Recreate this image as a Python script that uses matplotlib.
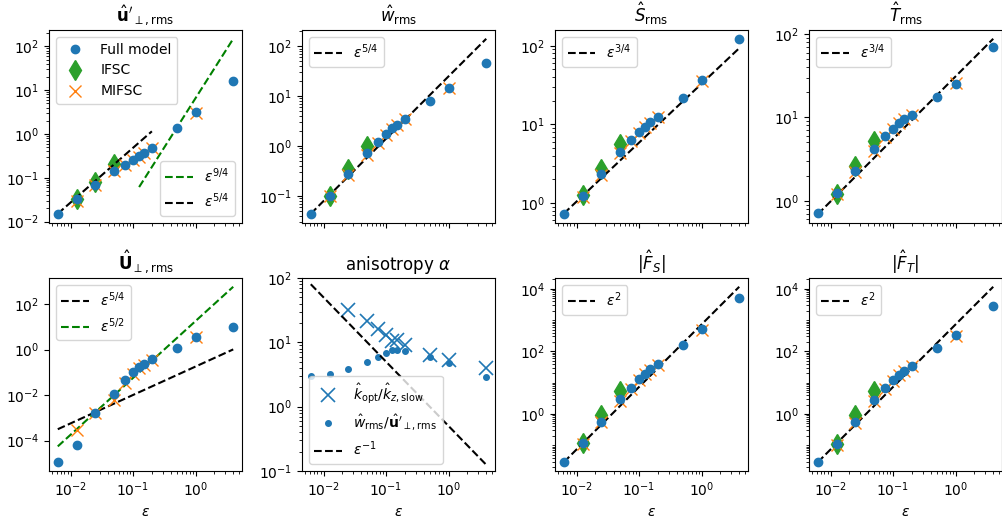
import numpy as np
import matplotlib
matplotlib.use("Agg")
import matplotlib.pyplot as plt
from matplotlib.ticker import FixedLocator, LogLocator, NullFormatter

# ---------------- data ----------------
eps = [0.00625, 0.0125, 0.025, 0.05, 0.075, 0.1, 0.125, 0.15, 0.2, 0.5, 1.0, 4.0]
eps_ifsc = [0.0125, 0.025, 0.05]
eps_mifsc = [0.0125, 0.025, 0.05, 0.075, 0.1, 0.125, 0.15, 0.2, 1.0]
eps_kopt = [0.025, 0.05, 0.075, 0.1, 0.125, 0.15, 0.2, 0.5, 1.0, 4.0]

uperp_full = [0.0147, 0.032, 0.069, 0.145, 0.20, 0.257, 0.31, 0.37, 0.48, 1.4, 3.1, 16.6]
uperp_ifsc = [0.033, 0.079, 0.21]
uperp_mifsc = [0.030, 0.067, 0.14, 0.20, 0.25, 0.30, 0.36, 0.47, 3.0]

w_full = [0.043, 0.10, 0.27, 0.72, 1.2, 1.74, 2.3, 2.7, 3.5, 8.1, 14.9, 47]
w_ifsc = [0.10, 0.35, 1.0]
w_mifsc = [0.10, 0.26, 0.66, 1.15, 1.7, 2.2, 2.7, 3.5, 14.5]

S_full = [0.72, 1.22, 2.35, 4.46, 6.3, 8.0, 9.4, 10.6, 12.4, 22, 37, 123]
S_ifsc = [1.25, 2.7, 5.65]
S_mifsc = [1.2, 2.3, 4.3, 6.1, 7.8, 9.3, 10.5, 12.3, 36]

T_full = [0.72, 1.23, 2.25, 4.2, 5.9, 7.3, 8.5, 9.5, 10.7, 17.5, 25, 70]
T_ifsc = [1.2, 2.6, 5.2]
T_mifsc = [1.2, 2.2, 4.0, 5.8, 7.2, 8.5, 9.5, 10.7, 26]

U_full = [1.12e-5, 6.4e-5, 1.7e-3, 0.0107, 0.045, 0.105, 0.18, 0.236, 0.40, 1.14, 3.5, 9.5]
U_mifsc = [2.9e-4, 1.6e-3, 6.0e-3, 0.035, 0.085, 0.15, 0.20, 0.36, 3.4]

kopt_ratio = [32, 21.7, 16.1, 13, 10.5, 11, 9.2, 6.4, 5.3, 4.0]
w_over_u = [2.95, 3.2, 3.9, 5.0, 6.0, 6.8, 7.5, 7.5, 7.3, 5.9, 4.8, 2.85]

FS_full = [0.030, 0.116, 0.57, 2.9, 6.9, 12.7, 19, 27, 40, 166, 510, 5200]
FS_ifsc = [0.12, 0.9, 5.5]
FS_mifsc = [0.11, 0.55, 2.6, 6.5, 12, 19, 26, 38, 500]

FT_full = [0.030, 0.11, 0.56, 2.8, 6.7, 11.8, 17.5, 24, 35, 124, 330, 2900]
FT_ifsc = [0.11, 0.9, 5.3]
FT_mifsc = [0.105, 0.53, 2.5, 6.3, 11.5, 17, 23, 34, 320]

# major y ticks for the flux panels (every second decade)
F_yticks = [1e0, 1e2, 1e4]

# scaling-law prefactors
c_u54, c_u94 = 8.6, 6.6
c_w = 25.0
c_S = 33.0
c_T = 31.0
c_U54, c_U52 = 0.18, 18.0
c_alpha = 0.5
c_F = 730.0

# ---------------- figure ----------------
W, H = 1003, 521
fig = plt.figure(figsize=(W / 100, H / 100), dpi=100)
lefts = [49, 302, 555, 809]
aw, ah = 193, 193
tops = [30, 278]
axes = [[None] * 4 for _ in range(2)]
for r in range(2):
    for c in range(4):
        axes[r][c] = fig.add_axes([lefts[c] / W, (H - tops[r] - ah) / H, aw / W, ah / H])

C0, C1, C2 = "#1f77b4", "#ff7f0e", "#2ca02c"
ms_o, ms_d, ms_x = 6, 10, 9


def model_points(ax, full, ifsc, mifsc):
    hf, = ax.plot(eps, full, "o", color=C0, ms=ms_o, ls="none", zorder=4, label="Full model")
    hi = None
    if ifsc is not None:
        hi, = ax.plot(eps_ifsc, ifsc, "d", color=C2, ms=ms_d, ls="none", zorder=2, label="IFSC")
    hm, = ax.plot(eps_mifsc, mifsc, "x", color=C1, ms=ms_x, ls="none", zorder=3, label="MIFSC")
    return hf, hi, hm


def powerline(ax, lo, hi, c, p, style, label):
    e = np.array([lo, hi])
    h, = ax.plot(e, c * e ** p, style, lw=1.5, label=label)
    return h


emin, emax = eps[0], eps[-1]

# panel 1
ax = axes[0][0]
hf, hi, hm = model_points(ax, uperp_full, uperp_ifsc, uperp_mifsc)
l54 = powerline(ax, emin, 0.2, c_u54, 1.25, "k--", r"$\varepsilon^{5/4}$")
l94 = powerline(ax, 0.125, emax, c_u94, 2.25, "g--", r"$\varepsilon^{9/4}$")
leg1 = ax.legend(handles=[hf, hi, hm], loc="upper left")
ax.add_artist(leg1)
ax.legend(handles=[l94, l54], loc="lower right")
ax.set_title(r"$\hat{\mathbf{u}}'_{\perp,\mathrm{rms}}$")

# panel 2
ax = axes[0][1]
model_points(ax, w_full, w_ifsc, w_mifsc)
l = powerline(ax, emin, emax, c_w, 1.25, "k--", r"$\varepsilon^{5/4}$")
ax.legend(handles=[l], loc="upper left")
ax.set_title(r"$\hat{w}_\mathrm{rms}$")

# panel 3
ax = axes[0][2]
model_points(ax, S_full, S_ifsc, S_mifsc)
l = powerline(ax, emin, emax, c_S, 0.75, "k--", r"$\varepsilon^{3/4}$")
ax.legend(handles=[l], loc="upper left")
ax.set_title(r"$\hat{S}_\mathrm{rms}$")

# panel 4
ax = axes[0][3]
model_points(ax, T_full, T_ifsc, T_mifsc)
l = powerline(ax, emin, emax, c_T, 0.75, "k--", r"$\varepsilon^{3/4}$")
ax.legend(handles=[l], loc="upper left")
ax.set_title(r"$\hat{T}_\mathrm{rms}$")

# panel 5
ax = axes[1][0]
model_points(ax, U_full, None, U_mifsc)
a = powerline(ax, emin, emax, c_U54, 1.25, "k--", r"$\varepsilon^{5/4}$")
b = powerline(ax, emin, emax, c_U52, 2.5, "g--", r"$\varepsilon^{5/2}$")
ax.legend(handles=[a, b], loc="upper left")
ax.set_title(r"$\hat{\mathbf{U}}_{\perp,\mathrm{rms}}$")

# panel 6
ax = axes[1][1]
hk, = ax.plot(eps_kopt, kopt_ratio, "x", color=C0, ms=10, mew=1.2, ls="none",
              label=r"$\hat{k}_\mathrm{opt}/\hat{k}_{z,\mathrm{slow}}$")
hr, = ax.plot(eps, w_over_u, ".", color=C0, ms=8, ls="none",
              label=r"$\hat{w}_\mathrm{rms}/\hat{\mathbf{u}}'_{\perp,\mathrm{rms}}$")
ha = powerline(ax, emin, emax, c_alpha, -1.0, "k--", r"$\varepsilon^{-1}$")
ax.set_ylim(0.1, 100)
ax.legend(handles=[hk, hr, ha], loc="lower left")
ax.set_title(r"anisotropy $\alpha$")

# panel 7
ax = axes[1][2]
model_points(ax, FS_full, FS_ifsc, FS_mifsc)
l = powerline(ax, emin, emax, c_F, 2.0, "k--", r"$\varepsilon^{2}$")
ax.legend(handles=[l], loc="upper left")
ax.set_title(r"$|\hat{F}_S|$")

# panel 8
ax = axes[1][3]
model_points(ax, FT_full, FT_ifsc, FT_mifsc)
l = powerline(ax, emin, emax, c_F, 2.0, "k--", r"$\varepsilon^{2}$")
ax.legend(handles=[l], loc="upper left")
ax.set_title(r"$|\hat{F}_T|$")

for r in range(2):
    for c in range(4):
        ax = axes[r][c]
        ax.set_xscale("log")
        ax.set_yscale("log")
        if r == 0:
            ax.tick_params(labelbottom=False)
        else:
            ax.set_xlabel(r"$\varepsilon$")

for ax in (axes[1][2], axes[1][3]):
    ax.yaxis.set_major_locator(FixedLocator(F_yticks))
    ax.yaxis.set_minor_locator(LogLocator(base=10, subs=np.arange(1, 10), numticks=20))
    ax.yaxis.set_minor_formatter(NullFormatter())

# common x-limits (auto from the data range)
xl = axes[1][0].get_xlim()
for r in range(2):
    for c in range(4):
        axes[r][c].set_xlim(xl)

fig.savefig("out.png", dpi=100)
